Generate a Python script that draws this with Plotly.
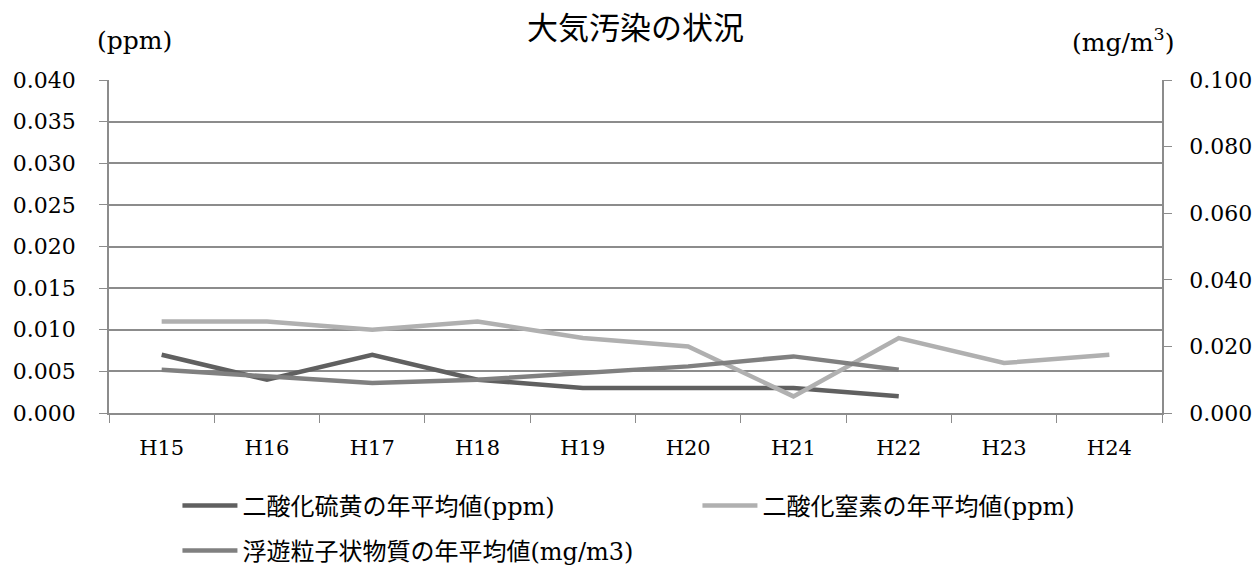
import plotly.graph_objects as go

# Fiscal years (Heisei era)
years = ["H15", "H16", "H17", "H18", "H19", "H20", "H21", "H22", "H23", "H24"]

# Annual mean concentrations
so2_ppm = [0.007, 0.004, 0.007, 0.004, 0.003, 0.003, 0.003, 0.002, None, None]
no2_ppm = [0.011, 0.011, 0.010, 0.011, 0.009, 0.008, 0.002, 0.009, 0.006, 0.007]
spm_mg = [0.013, 0.011, 0.009, 0.010, 0.012, 0.014, 0.017, 0.013, None, None]

left_ticks = [0.000, 0.005, 0.010, 0.015, 0.020, 0.025, 0.030, 0.035, 0.040]
right_ticks = [0.000, 0.020, 0.040, 0.060, 0.080, 0.100]

FONT = "DejaVu Serif, Noto Sans CJK JP, serif"
GRID = "#8c8c8c"

fig = go.Figure()
fig.add_trace(go.Scatter(
    x=years, y=so2_ppm, name="二酸化硫黄の年平均値(ppm)", mode="lines",
    line=dict(color="#606060", width=4.5), yaxis="y", legend="legend"))
fig.add_trace(go.Scatter(
    x=years, y=no2_ppm, name="二酸化窒素の年平均値(ppm)", mode="lines",
    line=dict(color="#b0b0b0", width=4.5), yaxis="y", legend="legend"))
fig.add_trace(go.Scatter(
    x=years, y=spm_mg, name="浮遊粒子状物質の年平均値(mg/m3)", mode="lines",
    line=dict(color="#808080", width=4.5), yaxis="y2", legend="legend2"))

legend_common = dict(
    orientation="h", xanchor="left", yanchor="middle",
    font=dict(size=24, family=FONT), itemwidth=55,
    bgcolor="rgba(0,0,0,0)", traceorder="normal")

fig.update_layout(
    width=1257, height=565,
    margin=dict(l=109, r=95, t=80, b=152, autoexpand=False),
    paper_bgcolor="white", plot_bgcolor="white",
    font=dict(family=FONT, size=21, color="#000000"),
    title=dict(text="大気汚染の状況", x=0.5, xref="paper", xanchor="center",
               y=1 - 28 / 565, yref="container", yanchor="middle",
               font=dict(size=31, family=FONT)),
    xaxis=dict(
        type="category", categoryarray=years, range=[-0.5, 9.5],
        showline=True, linecolor=GRID, linewidth=1.5,
        ticks="outside", tickson="boundaries", ticklen=8, tickcolor=GRID,
        showgrid=False, tickfont=dict(size=21), ticklabelstandoff=15,
        fixedrange=True),
    yaxis=dict(
        range=[0, 0.040], tickvals=left_ticks, tickformat=".3f",
        showline=True, linecolor=GRID, linewidth=1.5,
        ticks="outside", ticklen=8, tickcolor=GRID,
        showgrid=True, gridcolor=GRID, gridwidth=1.5,
        zeroline=False, tickfont=dict(size=22), ticklabelstandoff=19),
    yaxis2=dict(
        range=[0, 0.100], tickvals=right_ticks, tickformat=".3f",
        overlaying="y", side="right",
        showline=True, linecolor=GRID, linewidth=1.5,
        ticks="outside", ticklen=8, tickcolor=GRID,
        showgrid=False, zeroline=False, tickfont=dict(size=22),
        ticklabelstandoff=13),
    legend=dict(legend_common, x=0.065, y=(413 - 506) / 333,
                entrywidth=450, entrywidthmode="pixels"),
    legend2=dict(legend_common, x=0.065, y=(413 - 551) / 333),
    annotations=[
        dict(text="(ppm)", x=(134 - 109) / 1053, xref="paper", xanchor="center",
             y=(413 - 40) / 333, yref="paper", yanchor="middle",
             showarrow=False, font=dict(size=25)),
        dict(text="(mg/m<sup>3</sup>)", x=(1123 - 109) / 1053, xref="paper",
             xanchor="center", y=(413 - 40) / 333, yref="paper",
             yanchor="middle", showarrow=False, font=dict(size=25)),
    ],
)

fig.write_html("out.html")
